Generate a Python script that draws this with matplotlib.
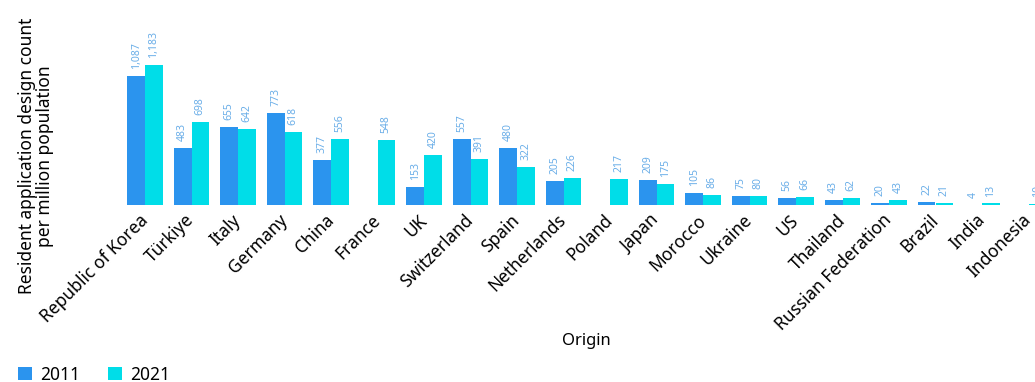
import numpy as np
import matplotlib.pyplot as plt

plt.rcParams['font.family'] = ['Noto Sans', 'DejaVu Sans']

origins = ['Republic of Korea', 'Türkiye', 'Italy', 'Germany', 'China', 'France',
           'UK', 'Switzerland', 'Spain', 'Netherlands', 'Poland', 'Japan',
           'Morocco', 'Ukraine', 'US', 'Thailand', 'Russian Federation',
           'Brazil', 'India', 'Indonesia']
v2011 = [1087, 483, 655, 773, 377, np.nan, 153, 557, 480, 205, np.nan, 209,
         105, 75, 56, 43, 20, 22, 4, np.nan]
v2021 = [1183, 698, 642, 618, 556, 548, 420, 391, 322, 226, 217, 175,
         86, 80, 66, 62, 43, 21, 13, 10]

c2011 = '#2b94ee'
c2021 = '#00dde8'
lab_col = '#6aaee8'

fig = plt.figure(figsize=(10.35, 3.82), dpi=100)
ax = fig.add_axes([121.75 / 1035, 177 / 382, 930 / 1035, 185 / 382])

x = np.arange(len(origins))
w = 0.38
b1 = ax.bar(x - w / 2, v2011, w, color=c2011, label='2011')
b2 = ax.bar(x + w / 2, v2021, w, color=c2021, label='2021')

for bars, vals in [(b1, v2011), (b2, v2021)]:
    for rect, v in zip(bars, vals):
        if np.isnan(v):
            continue
        ax.annotate(f'{v:,.0f}', (rect.get_x() + rect.get_width() / 2, v),
                    xytext=(0, 5), textcoords='offset points',
                    rotation=90, ha='center', va='bottom', fontsize=7.5,
                    color=lab_col)

ax.set_xlim(-0.5, len(origins) - 0.5)
ax.set_ylim(0, 1560)
ax.set_xticks(x)
ax.set_xticklabels(origins, rotation=45, ha='right', va='center',
                   rotation_mode='anchor', fontsize=12.5)
ax.tick_params(axis='x', length=0, pad=9)
ax.set_yticks([])
for s in ax.spines.values():
    s.set_visible(False)

fig.text(36 / 1035, 1 - 156 / 382, 'Resident application design count\nper million population',
         rotation=90, ha='center', va='center', fontsize=12.5, linespacing=0.95)
fig.text(586.75 / 1035, 1 - 341 / 382, 'Origin', ha='center', va='center',
         fontsize=12)

fig.legend(loc='lower left', bbox_to_anchor=(0.002, -0.045), ncol=2, frameon=False,
           fontsize=12.5, handlelength=0.8, handleheight=0.8, handletextpad=0.5,
           columnspacing=1.6)

fig.savefig('out.png', dpi=100)
